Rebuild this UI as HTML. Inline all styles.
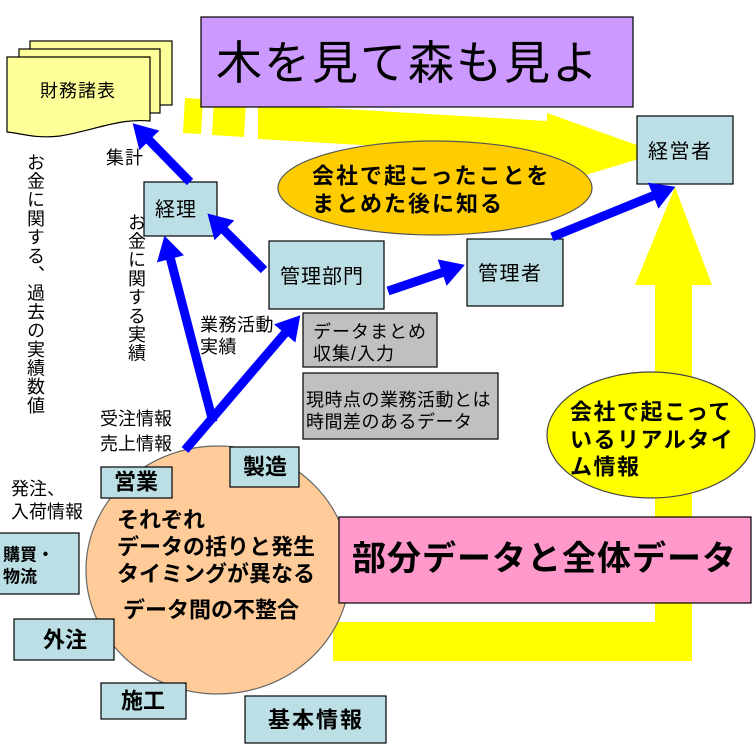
<!DOCTYPE html>
<html><head><meta charset="utf-8">
<style>
html,body{margin:0;padding:0;background:#fff;}
#c{position:relative;width:756px;height:756px;overflow:hidden;background:#fff;}
svg{position:absolute;left:0;top:0;}
text{font-family:"Liberation Sans","Noto Sans CJK JP",sans-serif;}
.v{position:absolute;writing-mode:vertical-rl;font-family:"Liberation Sans","Noto Sans CJK JP",sans-serif;font-size:18px;line-height:18px;letter-spacing:0.7px;color:#000;}
</style></head><body><div id="c">
<svg width="756" height="756" viewBox="0 0 756 756">
<defs>
<marker id="ah" markerUnits="userSpaceOnUse" viewBox="0 0 24 28" refX="2" refY="14" markerWidth="24" markerHeight="28" orient="auto">
<path d="M0,0 L24,14 L0,28 z" fill="#0000ff"/>
</marker>
</defs>

<!-- top yellow dashed arrow -->
<g fill="#ffff00">
<polygon points="185,98 203,99 201,134 183,133"/>
<polygon points="214,100 246,102 244,137 212,135"/>
<polygon points="258,104 547,121 547,156 258,139"/>
<polygon points="547,113 659,153 545,187"/>
</g>

<!-- L yellow arrow -->
<g fill="#ffff00">
<rect x="655" y="283" width="37" height="378"/>
<rect x="333" y="622" width="359" height="39"/>
<polygon points="635,285 675,187 712,285"/>
</g>

<!-- financial statements stack -->
<g stroke="#000" stroke-width="1.2" fill="#ffff99">
<rect x="30" y="41" width="142" height="64"/>
<rect x="19" y="49" width="141" height="64"/>
<path d="M7,57 L150,57 L150,121 C120,118 95,130 60,136 C35,139 20,133 7,132 Z"/>
</g>
<text x="40" y="91" font-size="18" dominant-baseline="central" letter-spacing="1">財務諸表</text>

<!-- purple title -->
<rect x="201" y="17" width="432" height="90" fill="#cc99ff" stroke="#000" stroke-width="1.2"/>
<text x="216" y="63" font-size="46" dominant-baseline="central" letter-spacing="2">木を見て森も見よ</text>

<!-- orange ellipse -->
<ellipse cx="435" cy="188" rx="157" ry="47" fill="#ffcc00" stroke="#555" stroke-width="1.2"/>
<text x="312" y="176" font-size="22" font-weight="bold" dominant-baseline="central" letter-spacing="2">会社で起こったことを</text>
<text x="312" y="204" font-size="22" font-weight="bold" dominant-baseline="central" letter-spacing="2">まとめた後に知る</text>

<!-- light blue boxes -->
<g fill="#bbdfe4" stroke="#000" stroke-width="1.2">
<rect x="144" y="182" width="73" height="54"/>
<rect x="269" y="241" width="115" height="68"/>
<rect x="467" y="239" width="96" height="67"/>
<rect x="637" y="116" width="96" height="68"/>
</g>
<text x="155" y="210" font-size="20" dominant-baseline="central" letter-spacing="1">経理</text>
<text x="280" y="277" font-size="20" dominant-baseline="central" letter-spacing="1">管理部門</text>
<text x="478" y="274" font-size="20" dominant-baseline="central" letter-spacing="1.5">管理者</text>
<text x="648" y="152" font-size="20" dominant-baseline="central" letter-spacing="1.5">経営者</text>

<!-- gray boxes -->
<g fill="#c0c0c0" stroke="#000" stroke-width="1.2">
<rect x="303" y="313" width="134" height="54"/>
<rect x="303" y="373" width="195" height="66"/>
</g>
<text x="313" y="332" font-size="18" dominant-baseline="central" letter-spacing="1">データまとめ</text>
<text x="313" y="354" font-size="18" dominant-baseline="central" letter-spacing="1">収集/入力</text>
<text x="306" y="400" font-size="18" dominant-baseline="central" letter-spacing="0.5">現時点の業務活動とは</text>
<text x="306" y="422" font-size="18" dominant-baseline="central" letter-spacing="0.5">時間差のあるデータ</text>

<!-- labels -->
<text x="106" y="158" font-size="18" dominant-baseline="central" letter-spacing="1">集計</text>
<text x="200" y="325" font-size="18" dominant-baseline="central" letter-spacing="0.5">業務活動</text>
<text x="200" y="347" font-size="18" dominant-baseline="central" letter-spacing="0.5">実績</text>
<text x="100" y="419" font-size="18" dominant-baseline="central">受注情報</text>
<text x="100" y="444" font-size="18" dominant-baseline="central">売上情報</text>
<text x="11" y="489" font-size="18" dominant-baseline="central">発注、</text>
<text x="11" y="512" font-size="18" dominant-baseline="central">入荷情報</text>

<!-- peach circle -->
<ellipse cx="218" cy="570" rx="132" ry="124" fill="#ffcc99" stroke="#666" stroke-width="1.2"/>
<g font-size="22" font-weight="bold">
<text x="117" y="520" dominant-baseline="central">それぞれ</text>
<text x="117" y="547" dominant-baseline="central">データの括りと発生</text>
<text x="117" y="574" dominant-baseline="central">タイミングが異なる</text>
<text x="123" y="610" dominant-baseline="central">データ間の不整合</text>
</g>

<!-- department boxes -->
<g fill="#bbdfe4" stroke="#000" stroke-width="1.2">
<rect x="101" y="467" width="71" height="31"/>
<rect x="230" y="447" width="69" height="40"/>
<rect x="-2" y="533" width="81" height="61"/>
<rect x="14" y="619" width="100" height="41"/>
<rect x="101" y="683" width="85" height="36"/>
<rect x="245" y="696" width="141" height="47"/>
</g>
<g font-size="22" font-weight="bold" text-anchor="middle">
<text x="136" y="482" dominant-baseline="central">営業</text>
<text x="265" y="467" dominant-baseline="central">製造</text>
<text x="65" y="640" dominant-baseline="central">外注</text>
<text x="143" y="701" dominant-baseline="central">施工</text>
<text x="316" y="720" dominant-baseline="central" letter-spacing="2">基本情報</text>
</g>
<text x="3" y="555" font-size="17" font-weight="bold" dominant-baseline="central">購買・</text>
<text x="3" y="577" font-size="17" font-weight="bold" dominant-baseline="central">物流</text>

<!-- yellow ellipse -->
<ellipse cx="651" cy="435" rx="104" ry="63" fill="#ffff00" stroke="#444" stroke-width="1.2"/>
<g font-size="22" font-weight="bold" letter-spacing="1.5">
<text x="570" y="412" dominant-baseline="central">会社で起こって</text>
<text x="570" y="440" dominant-baseline="central">いるリアルタイ</text>
<text x="570" y="467" dominant-baseline="central">ム情報</text>
</g>

<!-- pink box -->
<rect x="339" y="517" width="412" height="86" fill="#ff99cc" stroke="#000" stroke-width="1.2"/>
<text x="352" y="559" font-size="34" font-weight="bold" dominant-baseline="central" letter-spacing="1">部分データと全体データ</text>

<!-- blue arrows -->
<g stroke="#0000ff" stroke-width="9" fill="none" marker-end="url(#ah)">
<line x1="190" y1="182" x2="148" y2="139"/>
<line x1="264" y1="270" x2="223" y2="229"/>
<line x1="388" y1="291" x2="444" y2="272"/>
<line x1="552" y1="237" x2="655" y2="195"/>
<line x1="185" y1="450" x2="286" y2="332"/>
<line x1="213" y1="422" x2="170" y2="257"/>
</g>
</svg>

<div class="v" style="left:26px;top:153px;">お金に関する、過去の実績数値</div>
<div class="v" style="left:127px;top:213px;">お金に関する実績</div>
</div></body></html>
